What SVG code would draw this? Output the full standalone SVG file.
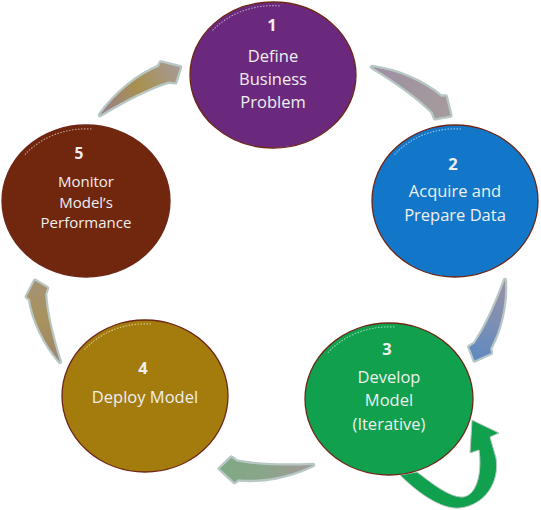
<svg xmlns="http://www.w3.org/2000/svg" width="541" height="510" viewBox="0 0 541 510">
<style>
.node ellipse{stroke:#6e2616;stroke-width:1.3}
.hl{fill:none;stroke:#ffffff;stroke-opacity:.55;stroke-width:1.1;stroke-dasharray:1.5 1.5}
.t{font-family:"Open Sans","Liberation Sans",sans-serif;fill:#efefef;text-anchor:middle;font-size:16.5px}
.n{font-weight:bold}
.arr{stroke:#b7c7c4;stroke-width:5;stroke-linejoin:round;paint-order:stroke}
</style>
<defs>
<path id="ca" d="M0,0 C25,-13 55,-19 80,-17 L84,-20 L100,-6 L88,6 L82,2 C60,-2 30,-2 0,0 Z"/>
<linearGradient id="g12" x1="0" y1="0" x2="1" y2="0"><stop offset="0" stop-color="#9e8fa4"/><stop offset="1" stop-color="#a59c9c"/></linearGradient>
<linearGradient id="g23" x1="0" y1="0" x2="1" y2="0"><stop offset="0" stop-color="#9b90a6"/><stop offset="0.5" stop-color="#7c8fb3"/><stop offset="1" stop-color="#5f89c2"/></linearGradient>
<linearGradient id="g34" x1="0" y1="0" x2="1" y2="0"><stop offset="0" stop-color="#a49898"/><stop offset="0.5" stop-color="#8aa58b"/><stop offset="1" stop-color="#7fa983"/></linearGradient>
<linearGradient id="g45" x1="0" y1="0" x2="1" y2="0"><stop offset="0" stop-color="#a08473"/><stop offset="0.5" stop-color="#a8925c"/><stop offset="1" stop-color="#a59274"/></linearGradient>
<linearGradient id="g51" x1="0" y1="0" x2="1" y2="0"><stop offset="0" stop-color="#9a7f8f"/><stop offset="0.5" stop-color="#a8904f"/><stop offset="1" stop-color="#a69a95"/></linearGradient>
</defs>
<g id="connectors">
<use href="#ca" class="arr" fill="url(#g12)" transform="translate(372,67) rotate(35.2) scale(0.92)"/>
<use href="#ca" class="arr" fill="url(#g23)" transform="translate(505,280) rotate(114.2) scale(0.86)"/>
<use href="#ca" class="arr" fill="url(#g34)" transform="translate(313,465) rotate(181.2) scale(0.93)"/>
<use href="#ca" class="arr" fill="url(#g45)" transform="translate(60,362) rotate(-103.7) scale(0.85)"/>
<use href="#ca" class="arr" fill="url(#g51)" transform="translate(100,115) rotate(-27.4) scale(0.93)"/>
<path id="loop" d="M400,475 C415,490 440,510 460,508 C485,505 500,482 496,458 L490,437 L499,433 L472,420 L470,453 L479,450 C482,470 478,495 463,497 C450,498 430,482 417,472 Z" fill="#11a14e" stroke="#b9c9c4" stroke-width="1"/>
</g>
<g id="node1" class="node">
<ellipse cx="273" cy="75" rx="83" ry="73" fill="#6a297c"/>
<path class="hl" d="M212.6,30.4 A78.9,69.4 0 0 1 279.9,5.9"/>
<text class="t n" x="272" y="31">1</text>
<text class="t" x="273" y="62">Define</text>
<text class="t" x="273" y="85">Business</text>
<text class="t" x="273" y="108">Problem</text>
</g>
<g id="node2" class="node">
<ellipse cx="455" cy="201" rx="83" ry="76" fill="#1377c9"/>
<path class="hl" d="M394.6,154.6 A78.9,72.2 0 0 1 461.9,129.1"/>
<text class="t n" x="453" y="170">2</text>
<text class="t" x="455" y="197">Acquire and</text>
<text class="t" x="455" y="221">Prepare Data</text>
</g>
<g id="node3" class="node">
<ellipse cx="389" cy="399" rx="84" ry="76" fill="#11a14e"/>
<path class="hl" d="M327.9,352.6 A79.8,72.2 0 0 1 395.9,327.1"/>
<text class="t n" x="387" y="355">3</text>
<text class="t" x="389" y="383">Develop</text>
<text class="t" x="389" y="406">Model</text>
<text class="t" x="389" y="430">(Iterative)</text>
</g>
<g id="node4" class="node">
<ellipse cx="145" cy="396" rx="83" ry="76" fill="#a47b0d"/>
<path class="hl" d="M84.6,349.6 A78.9,72.2 0 0 1 151.9,324.1"/>
<text class="t n" x="143" y="374">4</text>
<text class="t" x="145" y="403">Deploy Model</text>
</g>
<g id="node5" class="node">
<ellipse cx="86" cy="201" rx="84" ry="76" fill="#71260e"/>
<path class="hl" d="M24.9,154.6 A79.8,72.2 0 0 1 92.9,129.1"/>
<text class="t n" x="79" y="159" style="font-size:15.5px">5</text>
<text class="t" x="86" y="187" style="font-size:15px">Monitor</text>
<text class="t" x="86" y="208" style="font-size:15px">Model’s</text>
<text class="t" x="86" y="228" style="font-size:15px">Performance</text>
</g>
</svg>
